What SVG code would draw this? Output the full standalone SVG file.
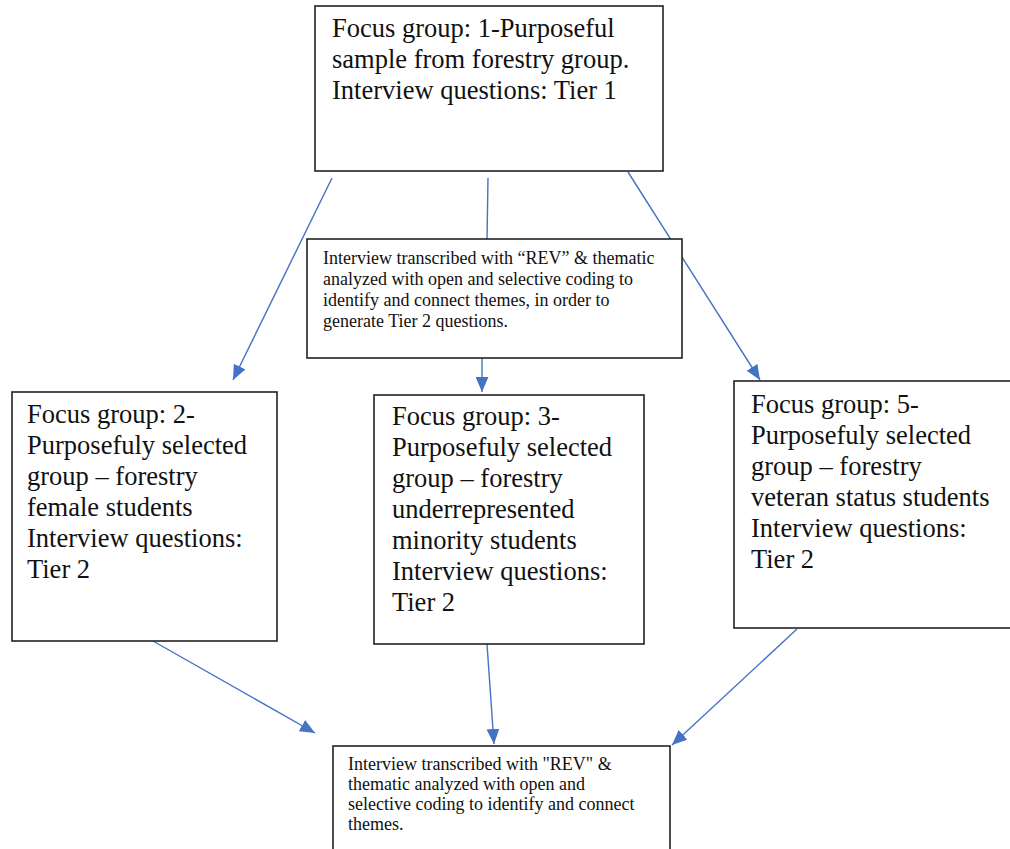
<svg xmlns="http://www.w3.org/2000/svg" width="1010" height="849" viewBox="0 0 1010 849">
<style>
.box{fill:#fff;stroke:#222;stroke-width:1.6}
.big{font-family:"Liberation Serif","Times New Roman",serif;font-size:26.5px;fill:#111}
.small{font-family:"Liberation Serif","Times New Roman",serif;font-size:18px;fill:#111}
.con{stroke:#4472C4;stroke-width:1.4;fill:none}
</style>
<defs>
<marker id="ahL" viewBox="0 0 14 12" refX="14" refY="6" markerWidth="15" markerHeight="13" markerUnits="userSpaceOnUse" orient="auto">
<path d="M0,0 L14,6 L0,12 z" fill="#4472C4"/>
</marker>
</defs>
<g id="connectors">
<line class="con" x1="332" y1="178" x2="233" y2="380" marker-end="url(#ahL)"/>
<line class="con" x1="488" y1="178" x2="487" y2="240"/>
<line class="con" x1="628" y1="172" x2="760" y2="380" marker-end="url(#ahL)"/>
<line class="con" x1="482" y1="358" x2="482" y2="392" marker-end="url(#ahL)"/>
<line class="con" x1="153" y1="641" x2="315" y2="733" marker-end="url(#ahL)"/>
<line class="con" x1="487" y1="644" x2="494" y2="744" marker-end="url(#ahL)"/>
<line class="con" x1="797" y1="629" x2="672" y2="745" marker-end="url(#ahL)"/>
</g>
<g id="node-fg1">
<rect class="box" x="315" y="6" width="348" height="165"/>
<text class="big"><tspan x="332" y="37">Focus group: 1-Purposeful</tspan><tspan x="332" y="68">sample from forestry group.</tspan><tspan x="332" y="99">Interview questions: Tier 1</tspan></text>
</g>
<g id="node-analysis1">
<rect class="box" x="307" y="239" width="375" height="119"/>
<text class="small"><tspan x="323" y="264">Interview transcribed with “REV” &amp; thematic</tspan><tspan x="323" y="285">analyzed with open and selective coding to</tspan><tspan x="323" y="306">identify and connect  themes, in order to</tspan><tspan x="323" y="327">generate Tier 2 questions.</tspan></text>
</g>
<g id="node-fg2">
<rect class="box" x="12" y="392" width="265" height="249"/>
<text class="big"><tspan x="27" y="423">Focus group: 2-</tspan><tspan x="27" y="454">Purposefuly selected</tspan><tspan x="27" y="485">group – forestry</tspan><tspan x="27" y="516">female students</tspan><tspan x="27" y="547">Interview questions:</tspan><tspan x="27" y="578">Tier 2</tspan></text>
</g>
<g id="node-fg3">
<rect class="box" x="374" y="395" width="270" height="249"/>
<text class="big"><tspan x="392" y="425">Focus group: 3-</tspan><tspan x="392" y="456">Purposefuly selected</tspan><tspan x="392" y="487">group – forestry</tspan><tspan x="392" y="518">underrepresented</tspan><tspan x="392" y="549">minority students</tspan><tspan x="392" y="580">Interview questions:</tspan><tspan x="392" y="611">Tier 2</tspan></text>
</g>
<g id="node-fg5">
<rect class="box" x="734" y="381" width="290" height="247"/>
<text class="big"><tspan x="751" y="413">Focus group: 5-</tspan><tspan x="751" y="444">Purposefuly selected</tspan><tspan x="751" y="475">group – forestry</tspan><tspan x="751" y="506">veteran status students</tspan><tspan x="751" y="537">Interview questions:</tspan><tspan x="751" y="568">Tier 2</tspan></text>
</g>
<g id="node-analysis2">
<rect class="box" x="333" y="746" width="337" height="120"/>
<text class="small"><tspan x="348" y="770">Interview transcribed with "REV" &amp;</tspan><tspan x="348" y="790">thematic analyzed with open and</tspan><tspan x="348" y="810">selective coding to identify and connect</tspan><tspan x="348" y="830">themes.</tspan></text>
</g>
</svg>
